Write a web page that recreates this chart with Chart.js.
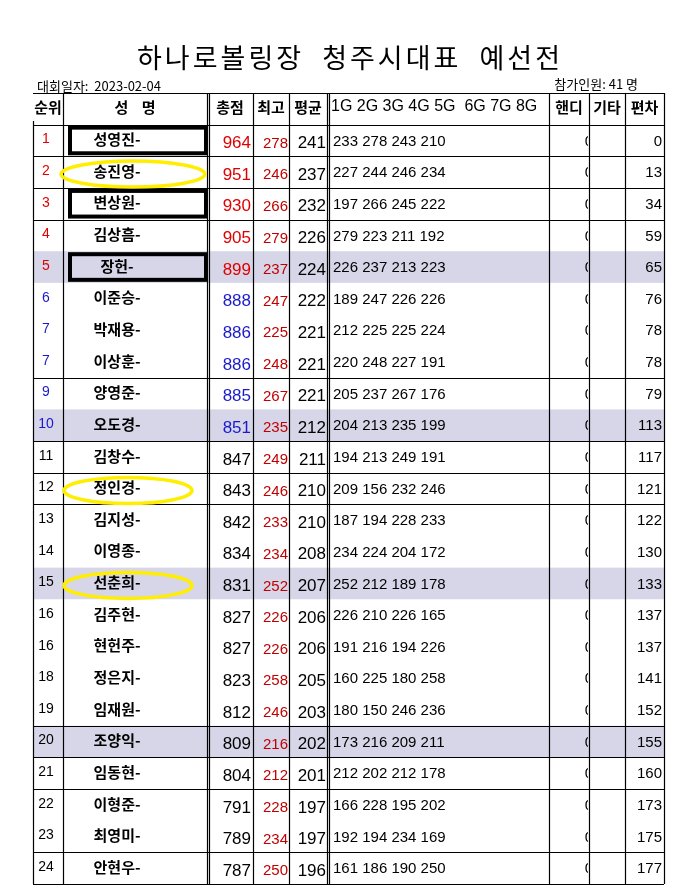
<!DOCTYPE html>
<html>
<head>
<meta charset="utf-8">
<script src="https://cdn.jsdelivr.net/npm/chart.js@4"></script>
<style>
  html, body { margin: 0; padding: 0; background: #fff; }
  #wrap { width: 697px; height: 886px; }
</style>
</head>
<body>
<div id="wrap"><canvas id="board"></canvas></div>
<script>
const title = "하나로볼링장  청주시대표  예선전";
const dateLabel = "대회일자:  2023-02-04";
const countLabel = "참가인원: 41 명";
const headers = ["순위", "성    명", "총점", "최고", "평균", "1G 2G 3G 4G 5G  6G 7G 8G", "핸디", "기타", "편차"];

const ranks = [1, 2, 3, 4, 5, 6, 7, 7, 9, 10, 11, 12, 13, 14, 15, 16, 16, 18, 19, 20, 21, 22, 23, 24];
const names = ["성영진-", "송진영-", "변상원-", "김상흠-", "장헌-", "이준승-", "박재용-", "이상훈-", "양영준-", "오도경-",
  "김창수-", "정인경-", "김지성-", "이영종-", "선춘희-", "김주현-", "현헌주-", "정은지-", "임재원-", "조양익-",
  "임동현-", "이형준-", "최영미-", "안현우-"];
const totals = [964, 951, 930, 905, 899, 888, 886, 886, 885, 851, 847, 843, 842, 834, 831, 827, 827, 823, 812, 809, 804, 791, 789, 787];
const highs = [278, 246, 266, 279, 237, 247, 225, 248, 267, 235, 249, 246, 233, 234, 252, 226, 226, 258, 246, 216, 212, 228, 234, 250];
const avgs = [241, 237, 232, 226, 224, 222, 221, 221, 221, 212, 211, 210, 210, 208, 207, 206, 206, 205, 203, 202, 201, 197, 197, 196];
const games = [
  [233, 278, 243, 210], [227, 244, 246, 234], [197, 266, 245, 222], [279, 223, 211, 192],
  [226, 237, 213, 223], [189, 247, 226, 226], [212, 225, 225, 224], [220, 248, 227, 191],
  [205, 237, 267, 176], [204, 213, 235, 199], [194, 213, 249, 191], [209, 156, 232, 246],
  [187, 194, 228, 233], [234, 224, 204, 172], [252, 212, 189, 178], [226, 210, 226, 165],
  [191, 216, 194, 226], [160, 225, 180, 258], [180, 150, 246, 236], [173, 216, 209, 211],
  [212, 202, 212, 178], [166, 228, 195, 202], [192, 194, 234, 169], [161, 186, 190, 250]
];
const handicaps = Array(24).fill(0);
const gaps = [0, 13, 34, 59, 65, 76, 78, 78, 79, 113, 117, 121, 122, 130, 133, 137, 137, 141, 152, 155, 160, 173, 175, 177];
const shadedRows = [5, 10, 15, 20];
const boxedRows = [1, 3, 5];
const circledRows = [2, 12, 15];
const ruledRows = [0, 1, 2, 3, 8, 10, 11, 12, 19, 20, 21, 23, 24];

// column edges in table units (1 unit ~ 1px)
const cols = [0, 30, 174, 220, 256, 294, 516, 556, 592, 631];
const doubleAfter = [2, 5];

const NUM = '"Liberation Sans Narrow", "Liberation Sans", Arial, sans-serif';
const KR = '"Noto Sans CJK KR", "Noto Sans", sans-serif';

const tablePlugin = {
  id: "table",
  beforeDatasetsDraw(chart) {
    const { ctx, scales: { x, y } } = chart;
    const L = x.getPixelForValue(0), R = x.getPixelForValue(631);
    ctx.save();
    ctx.fillStyle = "#d6d6e8";
    shadedRows.forEach(r => {
      ctx.fillRect(L, y.getPixelForValue(r), R - L, y.getPixelForValue(r + 1) - y.getPixelForValue(r));
    });
    ctx.strokeStyle = "#000";
    ctx.lineWidth = 1.2;
    ruledRows.forEach(r => {
      const py = Math.round(y.getPixelForValue(r + 1)) + 0.5;
      ctx.beginPath(); ctx.moveTo(L, py); ctx.lineTo(R, py); ctx.stroke();
    });
    const py0 = Math.round(y.getPixelForValue(0)) + 0.5;
    ctx.beginPath(); ctx.moveTo(L, py0); ctx.lineTo(R, py0); ctx.stroke();
    const top = y.getPixelForValue(0), bot = y.getPixelForValue(25);
    cols.forEach((c, i) => {
      if (i === 0) return;
      const px = Math.round(x.getPixelForValue(c)) + 0.5;
      ctx.beginPath(); ctx.moveTo(px, top); ctx.lineTo(px, bot); ctx.stroke();
      if (doubleAfter.includes(i)) {
        ctx.beginPath(); ctx.moveTo(px + 2, top); ctx.lineTo(px + 2, bot); ctx.stroke();
      }
    });
    const lx = Math.round(L) + 0.5;
    ctx.beginPath(); ctx.moveTo(lx, top + 28); ctx.lineTo(lx, bot); ctx.stroke();
    ctx.restore();
  },
  afterDatasetsDraw(chart) {
    const { ctx, scales: { x, y } } = chart;
    const cx = i => (x.getPixelForValue(cols[i]) + x.getPixelForValue(cols[i + 1])) / 2;
    const rx = i => x.getPixelForValue(cols[i + 1]);
    const lx = i => x.getPixelForValue(cols[i]);
    const my = r => (y.getPixelForValue(r) + y.getPixelForValue(r + 1)) / 2 + 1;
    ctx.save();
    ctx.textBaseline = "middle";
    ctx.fillStyle = "#000";
    ctx.textAlign = "center";
    ctx.font = "27px " + KR;
    ctx.letterSpacing = "3px";
    ctx.fillText(title, 350, 58);
    ctx.letterSpacing = "0px";
    ctx.font = "13px " + KR;
    ctx.textAlign = "left";
    ctx.fillText(dateLabel, 37, 86);
    ctx.textAlign = "right";
    ctx.fillText(countLabel, 638, 84);
    ctx.font = "bold 15px " + KR;
    headers.forEach((h, i) => {
      ctx.textAlign = i === 5 ? "left" : "center";
      ctx.font = (i === 5 ? "16px " + NUM : "bold 15px " + KR);
      ctx.fillText(h, i === 5 ? lx(5) + 4 : cx(i), my(0) - 3);
    });
    names.forEach((n, k) => {
      const r = k + 1, yy = my(r);
      const rc = k < 5 ? "#e00000" : (k < 10 ? "#1a1acc" : "#000");
      ctx.textAlign = "center";
      ctx.font = "14px " + NUM;
      ctx.fillStyle = rc;
      ctx.fillText(ranks[k], cx(0) - 2, yy - 2);
      ctx.fillStyle = "#000";
      ctx.font = "bold 15px " + KR;
      ctx.fillText(n, cx(1) - 18, yy - 2);
      ctx.textAlign = "right";
      ctx.font = "17px " + NUM;
      ctx.fillStyle = rc;
      ctx.fillText(totals[k], rx(2) - 2, yy + 2);
      ctx.fillStyle = "#c00000";
      ctx.font = "15px " + NUM;
      ctx.fillText(highs[k], rx(3) - 1, yy + 2);
      ctx.fillStyle = "#000";
      ctx.font = "17px " + NUM;
      ctx.fillText(avgs[k], rx(4) - 1, yy + 2);
      ctx.textAlign = "left";
      ctx.font = "15px " + NUM;
      ctx.fillText(games[k].join(" "), lx(5) + 6, yy);
      ctx.textAlign = "right";
      ctx.save();
      ctx.beginPath(); ctx.rect(lx(6), yy - 15, rx(6) - lx(6) - 1, 30); ctx.clip();
      ctx.font = "15px " + NUM;
      ctx.fillText(handicaps[k], rx(6) + 4, yy);
      ctx.restore();
      ctx.font = "15px " + NUM;
      ctx.fillText(gaps[k], rx(8) - 2, yy);
    });
    ctx.lineWidth = 4;
    ctx.strokeStyle = "#000";
    boxedRows.forEach(r => {
      const t = y.getPixelForValue(r), b = y.getPixelForValue(r + 1);
      ctx.strokeRect(lx(1) + 7, t + 3, 136, b - t - 6);
    });
    ctx.strokeStyle = "#ffee00";
    ctx.lineWidth = 3.5;
    circledRows.forEach((r, i) => {
      const w = i === 0 ? 72 : 64;
      ctx.beginPath();
      ctx.ellipse(lx(1) + (i === 0 ? 70 : 65), my(r) + 1, w, 13, 0, 0, Math.PI * 2);
      ctx.stroke();
    });
    ctx.restore();
  }
};

new Chart(document.getElementById("board"), {
  type: "scatter",
  data: { datasets: [{ data: [], pointRadius: 0 }] },
  options: {
    responsive: true,
    maintainAspectRatio: false,
    animation: false,
    layout: { padding: { left: 33, right: 33, top: 93, bottom: 2 } },
    scales: {
      x: { type: "linear", min: 0, max: 631, display: false },
      y: { type: "linear", min: 0, max: 25, reverse: true, display: false }
    },
    plugins: { legend: { display: false }, tooltip: { enabled: false } }
  },
  plugins: [tablePlugin]
});
</script>
</body>
</html>
